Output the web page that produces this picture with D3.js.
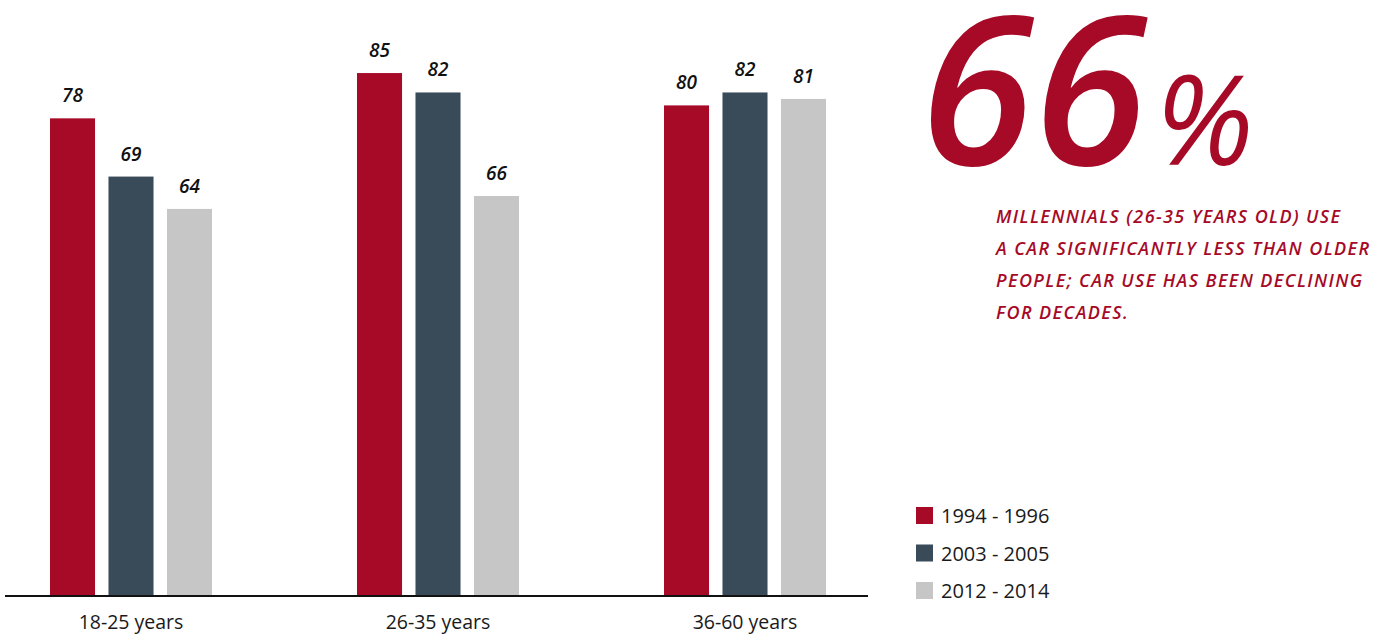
<!DOCTYPE html>
<html>
<head>
<meta charset="utf-8">
<script src="https://cdn.jsdelivr.net/npm/d3@7"></script>
<style>
	body { margin: 0; background: #fff; }
	svg text { font-family: "Open Sans", "Noto Sans", sans-serif; }
</style>
</head>
<body>
<div id="vis"></div>
<script>
const categories = ["18-25 years", "26-35 years", "36-60 years"];
const seriesNames = ["1994 - 1996", "2003 - 2005", "2012 - 2014"];
const values1994 = [78, 85, 80];
const values2003 = [69, 82, 82];
const values2012 = [64, 66, 81];
const colors = ["#a60a27", "#394a59", "#c6c6c6"];
const noteLines = [
	"MILLENNIALS (26-35 YEARS OLD) USE",
	"A CAR SIGNIFICANTLY LESS THAN OLDER",
	"PEOPLE; CAR USE HAS BEEN DECLINING",
	"FOR DECADES."
];

const width = 1389;
const height = 634;
const baseY = 596;

const series = [values1994, values2003, values2012];
const data = categories.map((c, i) => ({
	cat: c,
	vals: series.map((s, j) => ({ key: seriesNames[j], value: s[i], color: colors[j] }))
}));

const svg = d3.select('#vis')
	.append('svg')
		.attr("width", width)
		.attr("height", height);

const x0 = d3.scaleBand()
	.domain(categories)
	.range([-22.5, 898.5])
	.padding(0);

const x1 = d3.scaleBand()
	.domain(seriesNames)
	.range([72.5, 234.5])
	.paddingInner(0.23)
	.paddingOuter(0);

// the value axis of the original does not start at the baseline
const y = d3.scaleLinear()
	.domain([0, 100])
	.range([623, -24]);

const groups = svg.selectAll("g.grp")
	.data(data)
	.join("g")
		.attr("class", "grp")
		.attr("transform", d => `translate(${x0(d.cat)},0)`);

groups.selectAll("rect")
	.data(d => d.vals)
	.join("rect")
		.attr("x", d => x1(d.key))
		.attr("y", d => y(d.value))
		.attr("width", x1.bandwidth())
		.attr("height", d => baseY - y(d.value))
		.attr("fill", d => d.color);

groups.selectAll("text.val")
	.data(d => d.vals)
	.join("text")
		.attr("class", "val")
		.attr("x", d => x1(d.key) + x1.bandwidth() / 2)
		.attr("y", d => y(d.value) - 16)
		.attr("text-anchor", "middle")
		.style("font-size", "19px")
		.style("font-weight", "600")
		.style("font-style", "italic")
		.attr("fill", "#111")
		.text(d => d.value);

// baseline axis
const axis = svg.append("g")
	.attr("transform", `translate(0,${baseY})`)
	.call(d3.axisBottom(x0).tickSize(0).tickPadding(19));
axis.select(".domain")
	.attr("d", "M5,0H868")
	.attr("stroke", "#111")
	.attr("stroke-width", 2);
axis.selectAll("text")
	.style("font-family", "'Open Sans', sans-serif")
	.style("font-size", "19.5px")
	.attr("fill", "#1a1a1a");

// big number
const big = svg.append("text")
	.attr("x", 920)
	.attr("y", 165)
	.attr("fill", "#a60a27")
	.style("font-style", "italic");
big.append("tspan")
	.style("font-size", "206px")
	.style("font-weight", "600")
	.style("letter-spacing", "0px")
	.text("66");
big.append("tspan")
	.attr("dx", 8)
	.style("font-size", "124px")
	.style("font-weight", "400")
	.text("%");

svg.append("g")
	.selectAll("text")
	.data(noteLines)
	.join("text")
		.attr("x", 996)
		.attr("y", (d, i) => 223 + i * 32)
		.attr("fill", "#a60a27")
		.style("font-size", "18px")
		.style("font-style", "italic")
		.style("font-weight", "600")
		.style("letter-spacing", "1.4px")
		.text(d => d);

// legend
const legend = svg.append("g")
	.selectAll("g")
	.data(seriesNames)
	.join("g")
		.attr("transform", (d, i) => `translate(916,${507 + i * 37.5})`);
legend.append("rect")
	.attr("width", 17)
	.attr("height", 17)
	.attr("fill", (d, i) => colors[i]);
legend.append("text")
	.attr("x", 25)
	.attr("y", 16)
	.style("font-size", "20px")
	.attr("fill", "#1a1a1a")
	.text(d => d);
</script>
</body>
</html>
